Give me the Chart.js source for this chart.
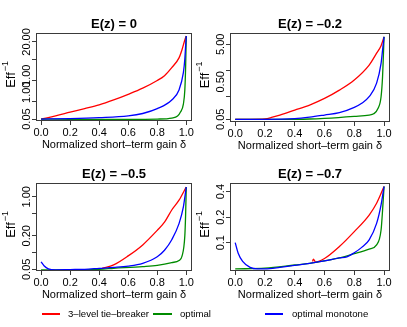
<!DOCTYPE html>
<html>
<head>
<meta charset="utf-8">
<script src="https://cdn.jsdelivr.net/npm/chart.js@4.4.1/dist/chart.umd.min.js"></script>
<style>
  html, body { margin:0; padding:0; background:#fff; }
  body { width:407px; height:327px; position:relative; overflow:hidden; font-family:"Liberation Sans", Arial, sans-serif; }
  canvas { position:absolute; }
  .lg-line { position:absolute; height:1.5px; }
  .lg-text { position:absolute; font-size:9.6px; color:#000; line-height:12px; white-space:nowrap; }
</style>
</head>
<body>
<canvas id="c1" width="195" height="155" style="left:0px;top:0px"></canvas>
<canvas id="c2" width="212" height="155" style="left:195px;top:0px"></canvas>
<canvas id="c3" width="195" height="155" style="left:0px;top:150px"></canvas>
<canvas id="c4" width="212" height="155" style="left:195px;top:150px"></canvas>

<div class="lg-line" style="left:42px;top:313px;width:18px;background:#ff0000"></div>
<div class="lg-text" style="left:68px;top:308px">3–level tie–breaker</div>
<div class="lg-line" style="left:153px;top:313px;width:19px;background:#008b00"></div>
<div class="lg-text" style="left:180px;top:308px">optimal</div>
<div class="lg-line" style="left:265px;top:313px;width:18px;background:#0000ff"></div>
<div class="lg-text" style="left:292px;top:308px">optimal monotone</div>

<script>
// ---------- data ----------
const xTickValues = [0, 0.2, 0.4, 0.6, 0.8, 1.0];
const seriesNames = ["3–level tie–breaker", "optimal", "optimal monotone"];

// Panel 1: E(z) = 0
const p1RedX   = [0, 0.1, 0.2, 0.3, 0.4, 0.5, 0.6, 0.7, 0.8, 0.85, 0.9, 0.95, 0.97, 0.99, 1.0];
const p1RedY   = [0.05, 0.064, 0.085, 0.112, 0.15, 0.22, 0.34, 0.55, 1.0, 1.45, 2.7, 5.8, 10.7, 23.3, 31.8];
const p1GreenX = [0, 0.2, 0.4, 0.6, 0.8, 0.9, 0.94, 0.96, 0.98, 0.99, 0.995, 1.0];
const p1GreenY = [0.05, 0.049, 0.049, 0.049, 0.05, 0.054, 0.063, 0.086, 0.16, 0.48, 2.3, 31.8];
const p1BlueX  = [0, 0.2, 0.4, 0.6, 0.7, 0.8, 0.9, 0.95, 0.98, 0.99, 0.995, 1.0];
const p1BlueY  = [0.05, 0.052, 0.056, 0.064, 0.077, 0.112, 0.22, 0.48, 1.85, 5.3, 13.5, 31.8];
const p1YTicks = [0.05, 0.1, 0.2, 0.5, 1, 2, 5, 10, 20];
const p1YLabelAt = [0.05, 0.4, 1.5, 20];
const p1YLabelText = ["0.05", "1.00", "1.00", "20.00"];

// Panel 2: E(z) = -0.2
const p2RedX   = [0, 0.1, 0.2, 0.25, 0.3, 0.4, 0.5, 0.6, 0.7, 0.8, 0.9, 0.95, 0.98, 1.0];
const p2RedY   = [0.05, 0.05, 0.051, 0.057, 0.065, 0.088, 0.12, 0.18, 0.3, 0.56, 1.4, 2.9, 4.6, 7.9];
const p2GreenX = [0, 0.3, 0.5, 0.6, 0.8, 0.9, 0.93, 0.96, 0.98, 0.99, 0.995, 1.0];
const p2GreenY = [0.05, 0.05, 0.051, 0.053, 0.06, 0.065, 0.07, 0.098, 0.2, 0.68, 2.2, 7.9];
const p2BlueX  = [0, 0.2, 0.4, 0.5, 0.6, 0.7, 0.8, 0.85, 0.9, 0.95, 0.98, 0.99, 1.0];
const p2BlueY  = [0.05, 0.05, 0.052, 0.057, 0.065, 0.075, 0.104, 0.134, 0.2, 0.46, 1.55, 3.5, 7.9];
const p2YTicks = [0.05, 0.1, 0.2, 0.5, 1, 2, 5];
const p2YLabelAt = [0.05, 0.5, 5];
const p2YLabelText = ["0.05", "0.50", "5.00"];

// Panel 3: E(z) = -0.5
const p3RedX   = [0.42, 0.5, 0.6, 0.7, 0.8, 0.85, 0.9, 0.95, 1.0];
const p3RedY   = [0.052, 0.06, 0.087, 0.137, 0.25, 0.35, 0.58, 0.87, 1.5];
const p3GreenX = [0, 0.2, 0.4, 0.5, 0.7, 0.8, 0.9, 0.95, 0.97, 0.99, 0.995, 1.0];
const p3GreenY = [0.049, 0.049, 0.05, 0.052, 0.056, 0.059, 0.066, 0.072, 0.085, 0.2, 0.44, 1.5];
const p3BlueX  = [0, 0.02, 0.05, 0.1, 0.2, 0.3, 0.4, 0.5, 0.6, 0.7, 0.8, 0.85, 0.9, 0.95, 0.98, 1.0];
const p3BlueY  = [0.068, 0.058, 0.051, 0.049, 0.0495, 0.05, 0.052, 0.054, 0.057, 0.064, 0.084, 0.11, 0.17, 0.33, 0.66, 1.5];
const p3YTicks = [0.05, 0.1, 0.2, 0.5, 1];
const p3YLabelAt = [0.05, 0.2, 1];
const p3YLabelText = ["0.05", "0.20", "1.00"];

// Panel 4: E(z) = -0.7
const p4RedX   = [0.52, 0.525, 0.54, 0.6, 0.7, 0.8, 0.9, 0.95, 1.0];
const p4RedY   = [0.060, 0.064, 0.059, 0.065, 0.09, 0.135, 0.212, 0.292, 0.46];
const p4GreenX = [0, 0.2, 0.4, 0.5, 0.6, 0.7, 0.8, 0.9, 0.95, 0.98, 0.99, 1.0];
const p4GreenY = [0.049, 0.05, 0.0545, 0.057, 0.061, 0.066, 0.074, 0.084, 0.094, 0.141, 0.24, 0.46];
const p4BlueX  = [0, 0.02, 0.05, 0.1, 0.15, 0.2, 0.3, 0.4, 0.5, 0.6, 0.7, 0.75, 0.8, 0.85, 0.9, 0.95, 0.98, 1.0];
const p4BlueY  = [0.1, 0.075, 0.06, 0.051, 0.049, 0.049, 0.051, 0.054, 0.057, 0.061, 0.066, 0.068, 0.076, 0.088, 0.108, 0.169, 0.28, 0.46];
const p4YTicks = [0.1, 0.2, 0.4];
const p4YLabelAt = [0.1, 0.2, 0.4];
const p4YLabelText = ["0.1", "0.2", "0.4"];

// ---------- drawing ----------
const FONT = '"Liberation Sans", Arial, Helvetica, sans-serif';
const COLORS = ["#ff0000", "#008b00", "#0000ff"];

function pts(xs, ys) { return xs.map((x, i) => ({ x: x, y: ys[i] })); }

const decor = {
  id: 'decor',
  afterDraw(chart, args, o) {
    const ctx = chart.ctx, a = chart.chartArea;
    ctx.save();
    ctx.strokeStyle = '#3a3a3a'; ctx.lineWidth = 1;
    ctx.strokeRect(Math.round(a.left) + 0.5, Math.round(a.top) + 0.5,
                   Math.round(a.right - a.left) - 1, Math.round(a.bottom - a.top) - 1);
    const cx = (a.left + a.right) / 2;
    ctx.fillStyle = '#000';
    ctx.textAlign = 'center'; ctx.textBaseline = 'middle';
    ctx.font = 'bold 13px ' + FONT;
    ctx.fillText(o.title, cx, a.top - 9);
    ctx.font = '11px ' + FONT;
    ctx.fillText('Normalized short–term gain δ', cx, a.bottom + 24);
    const ys = chart.scales.y;
    ctx.font = '11px ' + FONT;
    o.labelAt.forEach((v, i) => {
      const py = ys.getPixelForValue(v);
      ctx.save(); ctx.translate(a.left - 9, py); ctx.rotate(-Math.PI / 2);
      ctx.fillText(o.labelText[i], 0, 0); ctx.restore();
    });
    ctx.save();
    ctx.translate(a.left - 25, (a.top + a.bottom) / 2 + 3);
    ctx.rotate(-Math.PI / 2);
    ctx.font = '13px ' + FONT; ctx.textAlign = 'center';
    ctx.fillText('Eff', 0, 0);
    const w = ctx.measureText('Eff').width;
    ctx.font = '9px ' + FONT; ctx.textAlign = 'left';
    ctx.fillText('−1', w / 2 + 1, -5);
    ctx.restore();
    ctx.restore();
  }
};

function panel(id, area, cfg) {
  const cv = document.getElementById(id);
  const W = cv.width, H = cv.height;
  const ds = (data, i, order) => ({
    label: seriesNames[i], data: data, borderColor: COLORS[i], borderWidth: 1.3,
    pointRadius: 0, fill: false, cubicInterpolationMode: 'monotone', order: order
  });
  new Chart(cv, {
    type: 'line',
    data: { datasets: [
      ds(pts(cfg.rx, cfg.ry), 0, 3),
      ds(pts(cfg.gx, cfg.gy), 1, 2),
      ds(pts(cfg.bx, cfg.by), 2, 1)
    ]},
    options: {
      responsive: false, animation: false, devicePixelRatio: 1,
      layout: { padding: { left: 0, top: area.t, right: W - area.r, bottom: 0 } },
      plugins: { legend: { display: false }, tooltip: { enabled: false },
                 decor: { title: cfg.title, labelAt: cfg.labelAt, labelText: cfg.labelText } },
      scales: {
        x: {
          type: 'linear', min: -0.035, max: 1.04,
          grid: { drawOnChartArea: false, drawTicks: true, tickLength: 4, color: '#3a3a3a' },
          border: { display: false },
          ticks: { font: { size: 11, family: FONT }, color: '#000', padding: 1, maxRotation: 0, autoSkip: false,
                   callback: v => Number(v).toFixed(1) },
          afterBuildTicks: s => { s.ticks = xTickValues.map(v => ({ value: v })); },
          afterFit: s => { s.height = H - area.b; }
        },
        y: {
          type: 'logarithmic', min: cfg.ymin, max: cfg.ymax,
          grid: { drawOnChartArea: false, drawTicks: true, tickLength: 4, color: '#3a3a3a' },
          border: { display: false },
          ticks: { callback: () => '', font: { size: 11, family: FONT } },
          afterBuildTicks: s => { s.ticks = cfg.yticks.map(v => ({ value: v })); },
          afterFit: s => { s.width = area.l; }
        }
      }
    },
    plugins: [decor]
  });
}

panel('c1', { l: 36, r: 193, t: 33, b: 121 }, {
  title: 'E(z) = 0', ymin: 0.043, ymax: 40,
  rx: p1RedX, ry: p1RedY, gx: p1GreenX, gy: p1GreenY, bx: p1BlueX, by: p1BlueY,
  yticks: p1YTicks, labelAt: p1YLabelAt, labelText: p1YLabelText
});
panel('c2', { l: 35, r: 195, t: 33, b: 122 }, {
  title: 'E(z) = –0.2', ymin: 0.0424, ymax: 10,
  rx: p2RedX, ry: p2RedY, gx: p2GreenX, gy: p2GreenY, bx: p2BlueX, by: p2BlueY,
  yticks: p2YTicks, labelAt: p2YLabelAt, labelText: p2YLabelText
});
panel('c3', { l: 36, r: 193, t: 33, b: 121 }, {
  title: 'E(z) = –0.5', ymin: 0.0466, ymax: 1.77,
  rx: p3RedX, ry: p3RedY, gx: p3GreenX, gy: p3GreenY, bx: p3BlueX, by: p3BlueY,
  yticks: p3YTicks, labelAt: p3YLabelAt, labelText: p3YLabelText
});
panel('c4', { l: 35, r: 195, t: 33, b: 121 }, {
  title: 'E(z) = –0.7', ymin: 0.0463, ymax: 0.506,
  rx: p4RedX, ry: p4RedY, gx: p4GreenX, gy: p4GreenY, bx: p4BlueX, by: p4BlueY,
  yticks: p4YTicks, labelAt: p4YLabelAt, labelText: p4YLabelText
});
</script>
</body>
</html>
